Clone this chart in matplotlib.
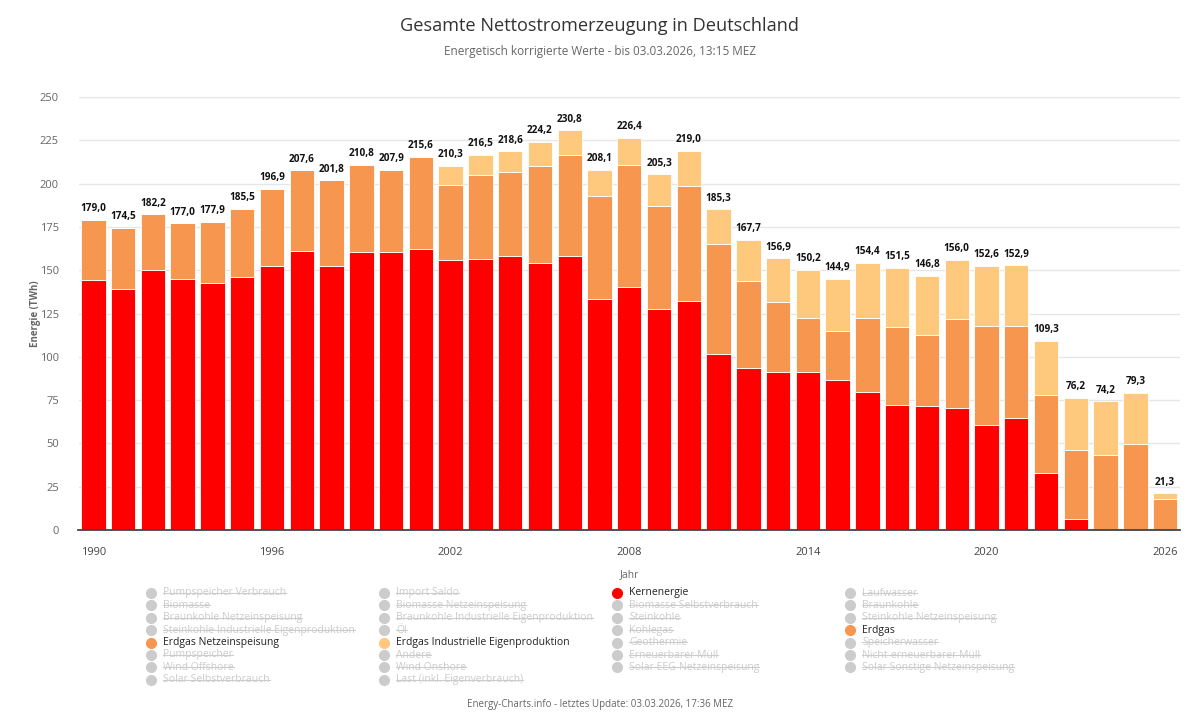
import numpy as np
import matplotlib
matplotlib.use('Agg')
import matplotlib.pyplot as plt
from matplotlib.lines import Line2D

plt.rcParams['font.family'] = ['Open Sans', 'DejaVu Sans']

jahre = list(range(1990, 2027))
kernenergie = [144.3, 139.1, 150.1, 144.9, 142.8, 145.9, 152.6, 161.1, 152.6, 160.7,
               160.3, 162.0, 155.7, 156.3, 158.4, 154.2, 158.4, 133.2, 140.1, 127.4,
               132.4, 101.6, 93.5, 91.4, 91.4, 86.4, 79.7, 72.0, 71.6, 70.4,
               60.6, 64.8, 32.7, 6.4, 0.0, 0.0, 0.0]
# bis 2001 nur "Erdgas" gesamt, danach Netzeinspeisung (gleiche Farbe)
erdgas_netz = [34.7, 35.4, 32.1, 32.1, 35.1, 39.6, 44.3, 46.5, 49.2, 50.1,
               47.6, 53.6, 43.5, 48.7, 48.5, 56.0, 58.1, 59.8, 70.6, 59.7,
               66.2, 63.3, 50.3, 40.1, 30.8, 28.7, 42.5, 45.0, 40.8, 51.4,
               57.4, 53.0, 45.2, 39.8, 43.3, 49.7, 17.9]
erdgas_ind = [0.0, 0.0, 0.0, 0.0, 0.0, 0.0, 0.0, 0.0, 0.0, 0.0,
              0.0, 0.0, 11.1, 11.5, 11.7, 14.0, 14.3, 15.1, 15.7, 18.2,
              20.4, 20.4, 23.9, 25.4, 28.0, 29.8, 32.2, 34.5, 34.4, 34.2,
              34.6, 35.1, 31.4, 30.0, 30.9, 29.6, 3.4]
xticks = [1990, 1996, 2002, 2008, 2014, 2020, 2026]

legend_cols = [
    ['Pumpspeicher Verbrauch', 'Biomasse', 'Braunkohle Netzeinspeisung',
     'Steinkohle Industrielle Eigenproduktion', 'Erdgas Netzeinspeisung',
     'Pumpspeicher', 'Wind Offshore', 'Solar Selbstverbrauch'],
    ['Import Saldo', 'Biomasse Netzeinspeisung', 'Braunkohle Industrielle Eigenproduktion',
     'Öl', 'Erdgas Industrielle Eigenproduktion', 'Andere', 'Wind Onshore',
     'Last (inkl. Eigenverbrauch)'],
    ['Kernenergie', 'Biomasse Selbstverbrauch', 'Steinkohle', 'Kohlegas',
     'Geothermie', 'Erneuerbarer Müll', 'Solar EEG-Netzeinspeisung'],
    ['Laufwasser', 'Braunkohle', 'Steinkohle Netzeinspeisung', 'Erdgas',
     'Speicherwasser', 'Nicht-erneuerbarer Müll', 'Solar Sonstige Netzeinspeisung'],
]

c_kern = '#ff0000'
c_netz = '#f7964f'
c_ind = '#fec87d'
aktiv = {'Kernenergie': c_kern, 'Erdgas Netzeinspeisung': c_netz,
         'Erdgas Industrielle Eigenproduktion': c_ind, 'Erdgas': c_netz}

W, H = 1200, 714
fig = plt.figure(figsize=(12, 7.14), dpi=100)
ax = fig.add_axes([78.5 / W, 1 - 530 / H, (1180 - 78.5) / W, (530 - 97) / H])

x = np.array(jahre)
k = np.array(kernenergie)
n = np.array(erdgas_netz)
i = np.array(erdgas_ind)
bw = 0.82
ax.bar(x, k, bw, color=c_kern, edgecolor='white', linewidth=0.6, zorder=3)
ax.bar(x, n, bw, bottom=k, color=c_netz, edgecolor='white', linewidth=0.6, zorder=3)
ax.bar(x, i, bw, bottom=k + n, color=c_ind, edgecolor='white', linewidth=0.6, zorder=3)

total = k + n + i
for xi, t in zip(x, total):
    ax.annotate(('%.1f' % t).replace('.', ','), (xi, t), xytext=(0, 4),
                textcoords='offset points', ha='center', va='bottom',
                fontsize=7.2, fontweight='bold', color='#111111', zorder=5)

ax.set_xlim(1989.5, 2026.5)
ax.set_ylim(0, 250)
ax.set_yticks(range(0, 251, 25))
ax.set_xticks(xticks)
ax.tick_params(axis='both', length=0, labelsize=8)
ax.tick_params(axis='y', colors='#666666', pad=14)
ax.tick_params(axis='x', colors='#444444', pad=12)
ax.grid(axis='y', color='#e6e6e6', linewidth=1, zorder=0)
for s in ['top', 'right', 'left']:
    ax.spines[s].set_visible(False)
ax.spines['bottom'].set_color('#444444')
ax.spines['bottom'].set_linewidth(1.3)
ax.spines['bottom'].set_zorder(4)
ax.set_xlabel('Jahr', fontsize=7.5, color='#666666', labelpad=8)
ax.set_ylabel('Energie (TWh)', fontsize=7, color='#666666', fontweight='bold', labelpad=-1)

fig.text(0.5, 1 - 26 / H, 'Gesamte Nettostromerzeugung in Deutschland', ha='center',
         va='center', fontsize=13.1, color='#333333', fontweight='medium')
fig.text(0.5, 1 - 52 / H, 'Energetisch korrigierte Werte - bis 03.03.2026, 13:15 MEZ',
         ha='center', va='center', fontsize=8.5, color='#666666')

# Legende
col_bullet = [151, 384, 617, 850]
col_text = [163, 396, 629, 862]
grau = []
for c, items in enumerate(legend_cols):
    for r, name in enumerate(items):
        yy = 1 - (593 + 12.4 * r) / H
        col = aktiv.get(name, '#cccccc')
        fig.add_artist(Line2D([col_bullet[c] / W], [yy], marker='o', markersize=7,
                              color=col, transform=fig.transFigure))
        t = fig.text(col_text[c] / W, yy, name, ha='left', va='center', fontsize=7.5,
                     color='#222222' if name in aktiv else '#cccccc')
        if name not in aktiv:
            grau.append(t)

fig.text(0.5, 1 - 704 / H, 'Energy-Charts.info - letztes Update: 03.03.2026, 17:36 MEZ',
         ha='center', va='center', fontsize=7, color='#666666')

fig.canvas.draw()
rend = fig.canvas.get_renderer()
for t in grau:
    bb = t.get_window_extent(rend).transformed(fig.transFigure.inverted())
    ym = bb.y0 + 0.52 * (bb.y1 - bb.y0)
    fig.add_artist(Line2D([bb.x0, bb.x1], [ym, ym], transform=fig.transFigure,
                          color='#cccccc', linewidth=0.8))

fig.savefig('out.png', dpi=100)
